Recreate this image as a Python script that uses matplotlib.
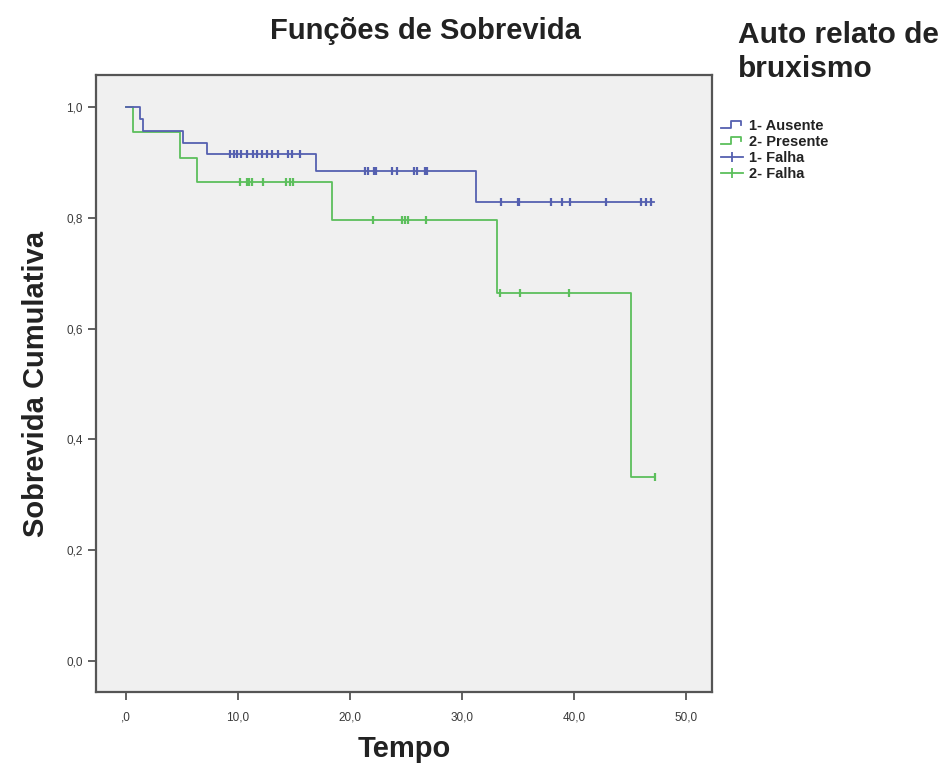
import numpy as np
import matplotlib
matplotlib.use("Agg")
import matplotlib.pyplot as plt
from matplotlib.lines import Line2D
from matplotlib.legend_handler import HandlerBase
from matplotlib.ticker import FixedLocator

plt.rcParams['font.family'] = ['Liberation Sans', 'DejaVu Sans']

# Curva 1 - Ausente (tempos dos eventos e sobrevida acumulada)
aus_t = [0.0, 1.25, 1.5, 5.1, 7.2, 17.0, 31.2, 47.1]
aus_s = [1.0, 0.979, 0.957, 0.936, 0.915, 0.884, 0.829, 0.829]
aus_cens = [9.3, 9.6, 9.9, 10.3, 10.8, 11.3, 11.7, 12.1, 12.6, 13.0, 13.6, 14.5, 14.8, 15.5,
            21.3, 21.6, 22.1, 22.3, 23.7, 24.2, 25.7, 26.0, 26.7, 26.9,
            33.5, 35.0, 35.1, 37.9, 38.9, 39.6, 42.8, 46.0, 46.4, 46.9]

# Curva 2 - Presente
pre_t = [0.0, 0.65, 4.8, 6.3, 18.4, 33.1, 45.1, 47.2]
pre_s = [1.0, 0.955, 0.909, 0.864, 0.797, 0.665, 0.332, 0.332]
pre_cens = [10.2, 10.8, 11.0, 11.2, 12.2, 14.3, 14.6, 14.9,
            22.0, 24.6, 24.9, 25.2, 26.8,
            33.4, 35.2, 39.5, 47.2]

xticks = [0, 10, 20, 30, 40, 50]
xlabels = [',0', '10,0', '20,0', '30,0', '40,0', '50,0']
yticks = [0.0, 0.2, 0.4, 0.6, 0.8, 1.0]
ylabels = ['0,0', '0,2', '0,4', '0,6', '0,8', '1,0']

blue = '#5560b0'
green = '#5cbf5c'


def surv_at(ts, ss, x):
    # valor da curva em degrau no tempo x
    idx = np.searchsorted(ts, x, side='right') - 1
    return ss[idx]


class StepHandler(HandlerBase):
    # icone em degrau da legenda (estilo SPSS)
    def create_artists(self, legend, orig, xd, yd, w, h, fontsize, trans):
        xs = np.array([0, 0.45, 0.45, 0.9, 0.9]) * w - xd
        ys = np.array([0.15, 0.15, 0.85, 0.85, 0.45]) * h - yd
        ln = Line2D(xs, ys, color=orig.get_color(), lw=1.3, transform=trans)
        return [ln]


fig = plt.figure(figsize=(9.44, 7.67), dpi=100)
ax = fig.add_axes([96 / 944, 1 - 692 / 767, 616 / 944, 617 / 767])
ax.set_facecolor('#f0f0f0')

ax.step(aus_t, aus_s, where='post', color=blue, lw=1.3, zorder=3)
ax.step(pre_t, pre_s, where='post', color=green, lw=1.3, zorder=2)

ax.plot(aus_cens, [surv_at(aus_t, aus_s, c) for c in aus_cens], ls='none',
        marker='|', ms=6, mew=1.6, color=blue, zorder=4)
ax.plot(pre_cens, [surv_at(pre_t, pre_s, c) for c in pre_cens], ls='none',
        marker='|', ms=6, mew=1.6, color=green, zorder=4)

ax.set_xlim(-2.68, 52.3)
ax.set_ylim(-0.056, 1.058)
ax.xaxis.set_major_locator(FixedLocator(xticks))
ax.yaxis.set_major_locator(FixedLocator(yticks))
ax.set_xticklabels(xlabels)
ax.set_yticklabels(ylabels)
ax.tick_params(axis='both', length=6, width=1.3, color='#555555',
               labelsize=8.5, labelcolor='#3a3a3a')
ax.tick_params(axis='x', pad=8)
for s in ax.spines.values():
    s.set_color('#555555')
    s.set_linewidth(1.6)

ax.set_xlabel('Tempo', fontsize=21, fontweight='bold', color='#222222', labelpad=8)
ax.set_ylabel('Sobrevida Cumulativa', fontsize=21, fontweight='bold', color='#222222', labelpad=12)
fig.text(425 / 944, 1 - 31 / 767, 'Funções de Sobrevida', ha='center', va='center',
         fontsize=21, fontweight='bold', color='#222222')

# legenda
fig.text(738 / 944, 1 - 52 / 767, 'Auto relato de\nbruxismo', ha='left', va='center',
         fontsize=21.5, fontweight='bold', color='#222222', linespacing=1.25)
h_aus = Line2D([], [], color=blue)
h_pre = Line2D([], [], color=green)
handles = [h_aus, h_pre,
           Line2D([], [], color=blue, lw=1.3, marker='|', ms=7, mew=1.3),
           Line2D([], [], color=green, lw=1.3, marker='|', ms=7, mew=1.3)]
leg = fig.legend(handles, ['1- Ausente', '2- Presente', '1- Falha', '2- Falha'],
                 loc='upper left', bbox_to_anchor=(715 / 944, 1 - 113 / 767),
                 frameon=False, fontsize=10.5, handlelength=1.5, handletextpad=0.4,
                 labelspacing=0.15, borderaxespad=0,
                 handler_map={h_aus: StepHandler(), h_pre: StepHandler()})
for t in leg.get_texts():
    t.set_fontweight('bold')
    t.set_color('#222222')

fig.savefig('out.png', dpi=100, facecolor='white')
